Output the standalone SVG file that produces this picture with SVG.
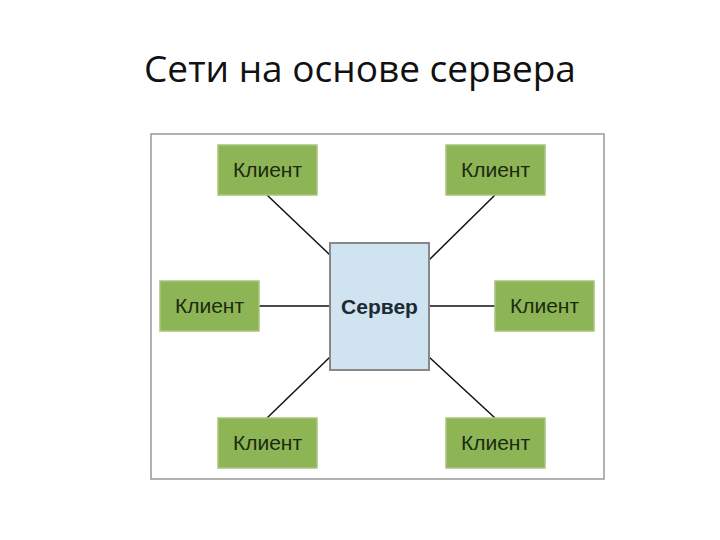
<svg xmlns="http://www.w3.org/2000/svg" width="720" height="540" viewBox="0 0 720 540">
<style>
.title{font-family:"Open Sans","Liberation Sans",sans-serif;font-size:37px;fill:#111}
.client rect{fill:#8db556;stroke:#a9c47e;stroke-width:1.5}
.client text{font-family:"Liberation Sans",Arial,sans-serif;font-size:21px;fill:#1c2a10;text-anchor:middle}
.server rect{fill:#cfe3f1;stroke:#888;stroke-width:2}
.server text{font-family:"Liberation Sans",Arial,sans-serif;font-size:21px;font-weight:bold;fill:#1e2a33;text-anchor:middle}
.conn line{stroke:#111;stroke-width:1.5}
</style>
<rect width="720" height="540" fill="#fff"/>
<text class="title" x="360" y="82" text-anchor="middle">Сети на основе сервера</text>
<rect x="151" y="134" width="453" height="345" fill="#fff" stroke="#999" stroke-width="1.5"/>
<g id="connectors" class="conn">
<line x1="267" y1="195" x2="330" y2="255"/>
<line x1="495" y1="195" x2="429" y2="260"/>
<line x1="259" y1="306" x2="330" y2="306"/>
<line x1="429" y1="306" x2="495" y2="306"/>
<line x1="267" y1="418" x2="330" y2="357"/>
<line x1="495" y1="418" x2="429" y2="357"/>
</g>
<g id="server" class="server"><rect x="330" y="243" width="99" height="127"/><text x="379.5" y="314">Сервер</text></g>
<g id="client1" class="client"><rect x="218" y="145" width="99" height="50"/><text x="267.5" y="177">Клиент</text></g>
<g id="client2" class="client"><rect x="446" y="145" width="99" height="50"/><text x="495.5" y="177">Клиент</text></g>
<g id="client3" class="client"><rect x="160" y="281" width="99" height="50"/><text x="209.5" y="313">Клиент</text></g>
<g id="client4" class="client"><rect x="495" y="281" width="99" height="50"/><text x="544.5" y="313">Клиент</text></g>
<g id="client5" class="client"><rect x="218" y="418" width="99" height="50"/><text x="267.5" y="450">Клиент</text></g>
<g id="client6" class="client"><rect x="446" y="418" width="99" height="50"/><text x="495.5" y="450">Клиент</text></g>
</svg>
